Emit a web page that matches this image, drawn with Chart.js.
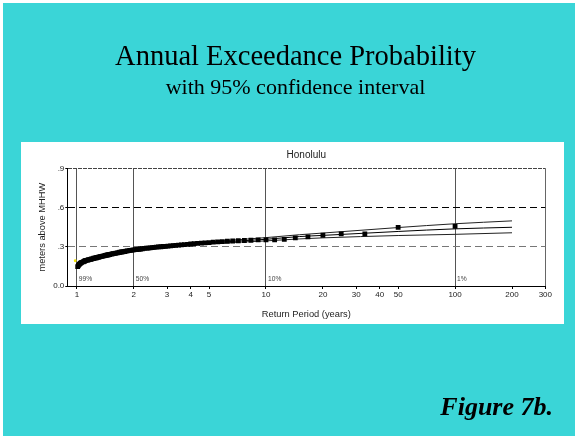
<!DOCTYPE html>
<html>
<head>
<meta charset="utf-8">
<script src="https://cdn.jsdelivr.net/npm/chart.js@4"></script>
<style>
  html, body { margin: 0; padding: 0; background: #3AD5D7; }
  canvas { display: block; }
</style>
</head>
<body>
<canvas id="c" width="575" height="436"></canvas>
<script>
// Annual maxima ranked by size, plotted at return period (years)
const returnPeriod = [
  100, 50, 33.33, 25, 20, 16.67, 14.29, 12.5, 11.11, 10,
  9.09, 8.33, 7.69, 7.14, 6.67, 6.25, 5.88, 5.56, 5.26, 5,
  4.76, 4.55, 4.35, 4.17, 4, 3.85, 3.70, 3.57, 3.45, 3.33,
  3.23, 3.13, 3.03, 2.94, 2.86, 2.78, 2.70, 2.63, 2.56, 2.5,
  2.44, 2.38, 2.33, 2.27, 2.22, 2.17, 2.13, 2.08, 2.04, 2,
  1.96, 1.92, 1.89, 1.85, 1.82, 1.79, 1.75, 1.72, 1.69, 1.67,
  1.64, 1.61, 1.59, 1.56, 1.54, 1.52, 1.49, 1.47, 1.45, 1.43,
  1.41, 1.39, 1.37, 1.35, 1.33, 1.32, 1.30, 1.28, 1.27, 1.25,
  1.23, 1.22, 1.20, 1.19, 1.18, 1.16, 1.15, 1.14, 1.12, 1.11,
  1.10, 1.09, 1.08, 1.06, 1.05, 1.04, 1.03, 1.02, 1.01
];
// Water level (meters above MHHW)
const observedLevel = [
  0.456, 0.448, 0.398, 0.398, 0.388, 0.376, 0.368, 0.357, 0.353, 0.353,
  0.352, 0.350, 0.348, 0.346, 0.344, 0.342, 0.340, 0.338, 0.335, 0.332,
  0.330, 0.328, 0.326, 0.324, 0.321, 0.319, 0.317, 0.315, 0.313, 0.311,
  0.309, 0.307, 0.305, 0.303, 0.302, 0.300, 0.299, 0.297, 0.296, 0.294,
  0.292, 0.290, 0.289, 0.287, 0.285, 0.283, 0.281, 0.279, 0.278, 0.276,
  0.274, 0.272, 0.270, 0.268, 0.266, 0.264, 0.262, 0.260, 0.258, 0.256,
  0.254, 0.252, 0.250, 0.248, 0.246, 0.244, 0.241, 0.239, 0.237, 0.235,
  0.233, 0.231, 0.229, 0.227, 0.224, 0.222, 0.220, 0.218, 0.216, 0.214,
  0.212, 0.210, 0.208, 0.206, 0.204, 0.202, 0.200, 0.198, 0.196, 0.194,
  0.191, 0.188, 0.185, 0.181, 0.177, 0.172, 0.166, 0.158, 0.148
];

// Fitted distribution and its 95% confidence bounds
const fitPeriod  = [1.01, 1.05, 1.1, 1.2, 1.5, 2, 3, 5, 10, 15, 20, 50, 100, 200];
const fitLevel   = [0.150, 0.178, 0.194, 0.210, 0.240, 0.275, 0.304, 0.330, 0.357, 0.378, 0.387, 0.417, 0.437, 0.449];
const upperLevel = [0.152, 0.180, 0.196, 0.212, 0.243, 0.279, 0.309, 0.337, 0.370, 0.392, 0.405, 0.447, 0.476, 0.498];
const lowerLevel = [0.148, 0.176, 0.192, 0.208, 0.237, 0.271, 0.299, 0.323, 0.345, 0.360, 0.368, 0.386, 0.395, 0.407];

// Single highlighted reading
const markerPeriod = [0.98];
const markerLevel  = [0.193];

// Axis ticks
const xTickValues = [1, 2, 3, 4, 5, 10, 20, 30, 40, 50, 100, 200, 300];
const xTickLabels = ['1', '2', '3', '4', '5', '10', '20', '30', '40', '50', '100', '200', '300'];
const yTickValues = [0, 0.3, 0.6, 0.9];
const yTickLabels = ['0.0', '.3', '.6', '.9'];

// Exceedance probability reference lines
const probPeriods = [1, 2, 10, 100];
const probLabels  = ['99%', '50%', '10%', '1%'];

const pairs = (xs, ys) => xs.map((x, i) => ({ x: x, y: ys[i] }));

const SANS = '"Liberation Sans", Arial, sans-serif';
const SERIF = '"Liberation Serif", "Times New Roman", serif';

const slidePlugin = {
  id: 'slide',
  beforeDraw(chart) {
    const ctx = chart.ctx;
    ctx.save();
    ctx.fillStyle = '#3AD5D7';
    ctx.fillRect(0, 0, chart.width, chart.height);
    ctx.fillStyle = '#FFFFFF';
    ctx.fillRect(0, 0, chart.width, 3);
    ctx.fillRect(0, 0, 3, chart.height);
    ctx.fillRect(21, 142, 543, 182);
    ctx.restore();
  },
  afterDraw(chart) {
    const ctx = chart.ctx;
    const area = chart.chartArea;
    const xs = chart.scales.x;
    const cx = (area.left + area.right) / 2;
    ctx.save();

    // slide heading
    ctx.fillStyle = '#000';
    ctx.textAlign = 'center';
    ctx.textBaseline = 'alphabetic';
    ctx.font = '28.5px ' + SERIF;
    ctx.fillText('Annual Exceedance Probability', 295.5, 65);
    ctx.font = '22px ' + SERIF;
    ctx.fillText('with 95% confidence interval', 295.5, 93.5);
    ctx.textAlign = 'right';
    ctx.font = 'italic bold 26px ' + SERIF;
    ctx.fillText('Figure 7b.', 553, 415);

    // chart title and axis titles
    ctx.fillStyle = '#222';
    ctx.textAlign = 'center';
    ctx.textBaseline = 'middle';
    ctx.font = '10px ' + SANS;
    ctx.fillText('Honolulu', cx, 155.5);
    ctx.font = '9.3px ' + SANS;
    ctx.fillText('Return Period (years)', cx, 314);
    ctx.save();
    ctx.translate(42.7, (area.top + area.bottom) / 2);
    ctx.rotate(-Math.PI / 2);
    ctx.fillText('meters above MHHW', 0, 0);
    ctx.restore();

    // probability labels beside the reference lines
    ctx.fillStyle = '#444';
    ctx.textAlign = 'left';
    ctx.font = '6.7px ' + SANS;
    probPeriods.forEach((p, i) => {
      ctx.fillText(probLabels[i], xs.getPixelForValue(p) + 2, area.bottom - 7);
    });
    ctx.restore();
  }
};

new Chart(document.getElementById('c'), {
  type: 'scatter',
  data: {
    datasets: [
      {
        data: pairs(markerPeriod, markerLevel),
        pointStyle: 'circle',
        pointRadius: 1.4,
        backgroundColor: '#F5E400',
        borderWidth: 0
      },
      {
        data: pairs(returnPeriod, observedLevel),
        pointStyle: 'rect',
        pointRadius: 3.4,
        backgroundColor: '#000',
        borderWidth: 0
      },
      {
        data: pairs(fitPeriod, upperLevel),
        showLine: true,
        pointRadius: 0,
        borderColor: '#222',
        borderWidth: 1,
        cubicInterpolationMode: 'monotone'
      },
      {
        data: pairs(fitPeriod, fitLevel),
        showLine: true,
        pointRadius: 0,
        borderColor: '#000',
        borderWidth: 1,
        cubicInterpolationMode: 'monotone'
      },
      {
        data: pairs(fitPeriod, lowerLevel),
        showLine: true,
        pointRadius: 0,
        borderColor: '#222',
        borderWidth: 1,
        cubicInterpolationMode: 'monotone'
      }
    ]
  },
  options: {
    responsive: false,
    animation: false,
    devicePixelRatio: 1,
    events: [],
    layout: { padding: { left: 0, top: 168.3, right: 29.7, bottom: 0 } },
    plugins: { legend: { display: false }, tooltip: { enabled: false }, title: { display: false } },
    scales: {
      x: {
        type: 'logarithmic',
        min: 0.89,
        max: 300,
        afterFit(s) { s.height = 150; },
        afterBuildTicks(s) { s.ticks = xTickValues.map(v => ({ value: v })); },
        ticks: {
          autoSkip: false,
          maxRotation: 0,
          padding: 1,
          color: '#222',
          font: { family: SANS, size: 8 },
          callback: (v, i) => xTickLabels[i]
        },
        grid: {
          drawTicks: true,
          tickLength: 3,
          tickColor: '#000',
          lineWidth: 1,
          color: (c) => {
            const v = c.tick ? c.tick.value : null;
            if (probPeriods.includes(v)) return '#555';
            if (v === 300) return '#666';
            return 'rgba(0,0,0,0)';
          }
        },
        border: { display: true, color: '#000', width: 1 }
      },
      y: {
        type: 'linear',
        min: 0,
        max: 0.9,
        afterFit(s) { s.width = 67.3; },
        afterBuildTicks(s) { s.ticks = yTickValues.map(v => ({ value: v })); },
        ticks: {
          padding: 1,
          color: '#222',
          font: { family: SANS, size: 8 },
          callback: (v, i) => yTickLabels[i]
        },
        grid: {
          drawTicks: true,
          tickLength: 2,
          tickColor: '#000',
          lineWidth: 1,
          color: (c) => {
            const v = c.tick ? c.tick.value : null;
            if (v === 0.3) return '#777';
            if (v === 0.6) return '#000';
            if (v === 0.9) return '#444';
            return 'rgba(0,0,0,0)';
          }
        },
        border: {
          display: true,
          color: '#000',
          width: 1,
          dash: (c) => {
            if (!c.tick) return [];
            return c.tick.value === 0.9 ? [4, 1] : [7, 4];
          }
        }
      }
    }
  },
  plugins: [slidePlugin]
});
</script>
</body>
</html>
